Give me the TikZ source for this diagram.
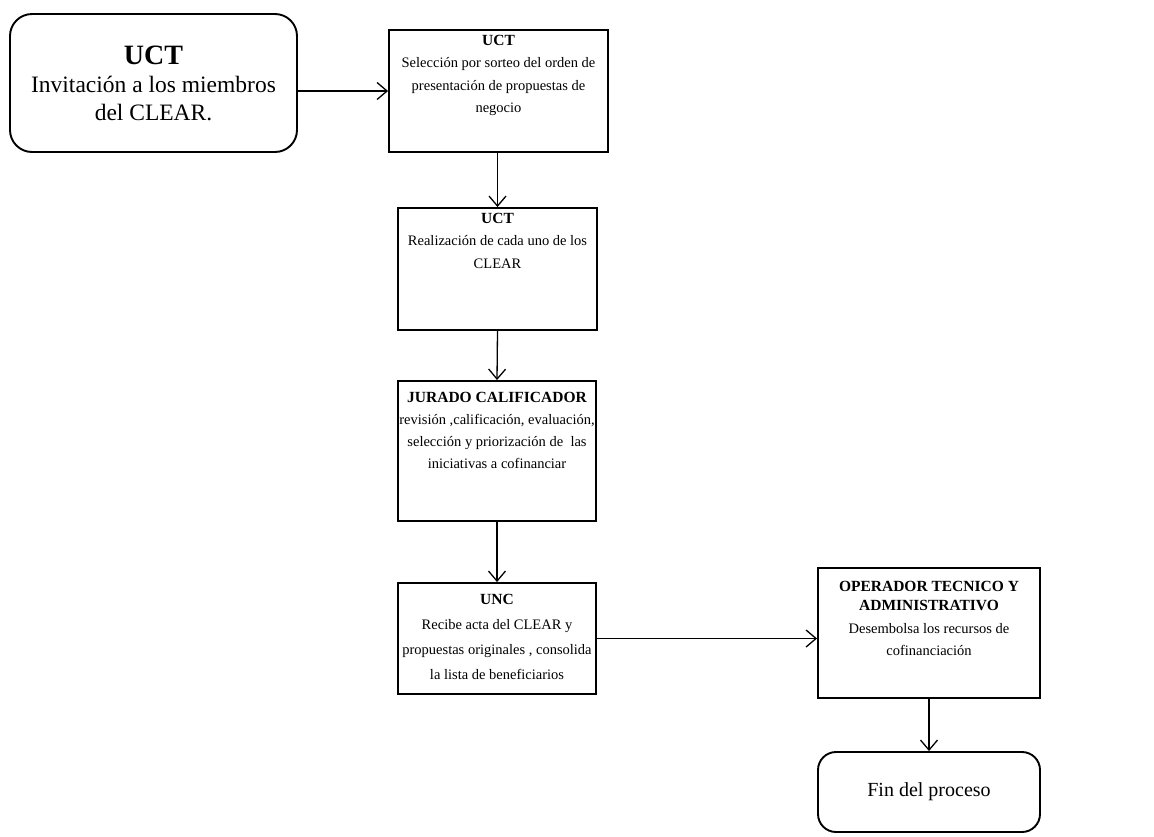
\documentclass[tikz,border=0pt]{standalone}
\usepackage{fontspec}
\setmainfont{Liberation Serif}
\usetikzlibrary{arrows.meta}
% #1 width, #2 height, #3 top pad, #4 line spacing, #5 text
\newcommand{\bx}[5]{\parbox[c][#2][t]{#1}{\fontsize{14.5}{#4}\selectfont\centering\vspace*{#3}#5\par}}
\newcommand{\hd}[1]{{\fontsize{15.5}{21}\selectfont\bfseries #1}}
\tikzset{
  box/.style={draw=black, line width=1.9pt, inner sep=0pt,
    font=\fontsize{14.5}{22}\selectfont},
  rbox/.style={box, rounded corners=22pt},
  conn/.style={line width=1.3pt, -{Straight Barb[length=10pt,width=17pt,line width=1.3pt]}},
}
\begin{document}
\begin{tikzpicture}[x=1pt,y=-1pt]
\useasboundingbox (0,0) rectangle (1154,836);
\node[rbox, minimum width=287pt, minimum height=138pt] (b1) at (153.5,83)
  {\parbox{287pt}{\centering\fontsize{28}{36}\selectfont\bfseries UCT\par
   \fontsize{23.5}{28}\selectfont\mdseries Invitación a los miembros\\ del CLEAR.\par}};
\node[box, minimum width=219pt, minimum height=122pt] (b2) at (498.5,91)
  {\bx{219pt}{122pt}{5pt}{22.5pt}{\hd{UCT}\\Selección por sorteo del orden de\\presentación de propuestas de\\negocio}};
\node[box, minimum width=199pt, minimum height=122pt] (b3) at (497.5,269)
  {\bx{199pt}{122pt}{5pt}{22.5pt}{\hd{UCT}\\Realización de cada uno de los\\CLEAR}};
\node[box, minimum width=198pt, minimum height=140pt] (b4) at (497,451)
  {\bx{198pt}{140pt}{11pt}{22pt}{\hd{JURADO CALIFICADOR}\\revisión ,calificación, evaluación,\\selección y priorización de \ las\\iniciativas a cofinanciar}};
\node[box, minimum width=198pt, minimum height=111pt] (b5) at (497,638.5)
  {\bx{198pt}{111pt}{11pt}{25pt}{\hd{UNC}\\Recibe acta del CLEAR y\\propuestas originales , consolida\\la lista de beneficiarios}};
\node[box, minimum width=222pt, minimum height=130pt] (b6) at (929,633)
  {\bx{222pt}{130pt}{13pt}{22pt}{{\fontsize{15.5}{19}\selectfont\bfseries OPERADOR TECNICO Y\\ADMINISTRATIVO\par}\vspace{1pt}Desembolsa los recursos de\\cofinanciación}};
\node[rbox, rounded corners=18pt, minimum width=222pt, minimum height=80pt] (b7) at (929,792)
  {\fontsize{20}{24}\selectfont Fin del proceso};
\draw[conn] (b1.east |- b2.west) -- (b2.west);
\draw[conn] (b2.south -| b3.north) -- (b3.north);
\draw[conn] (b3.south) -- (b4.north);
\draw[conn] (b4.south) -- (b5.north);
\draw[conn] (b5.east) -- (b5.east -| b6.west);
\draw[conn] (b6.south) -- (b7.north);
\end{tikzpicture}
\end{document}
